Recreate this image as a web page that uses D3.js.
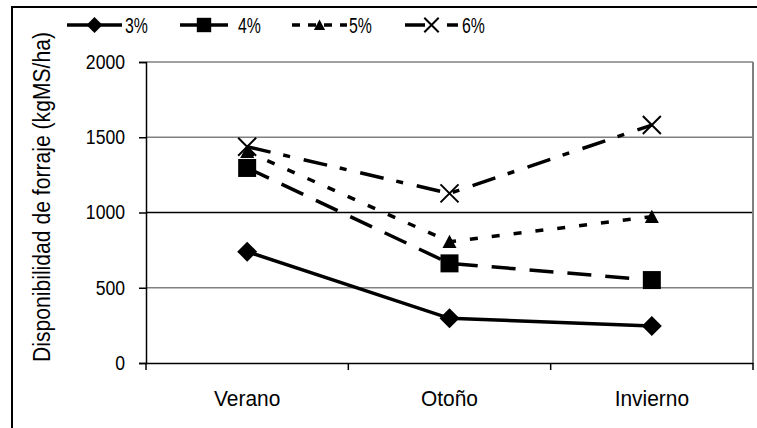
<!DOCTYPE html>
<html><head><meta charset="utf-8">
<script src="https://cdn.jsdelivr.net/npm/d3@7"></script>
<style>
body{margin:0;background:#fff;}
text{font-family:'Liberation Sans','Arial',sans-serif;fill:#000;}
</style></head><body>
<svg id="c" width="757" height="428"></svg>
<script>
const categories = ["Verano","Otoño","Invierno"];
const seriesNames = ["3%","4%","5%","6%"];
const s3 = [740, 297, 246];
const s4 = [1296, 662, 551];
const s5 = [1404, 806, 972];
const s6 = [1437, 1127, 1581];
const yTicks = [0, 500, 1000, 1500, 2000];
const yTitle = "Disponibilidad de forraje (kgMS/ha)";

const series = [
  {name: seriesNames[0], values: s3, dash: null, legDash: null, marker: "diamond"},
  {name: seriesNames[1], values: s4, dash: "24,14", legDash: null, marker: "square"},
  {name: seriesNames[2], values: s5, dash: "8,14", legDash: "8,8", marker: "triangle"},
  {name: seriesNames[3], values: s6, dash: "24,13,7,14", legDash: "20,22,14,10", marker: "x"}
];

// condense text horizontally (the reference uses a narrow face)
function condense(sel, k){
  sel.each(function(){
    const w = this.getComputedTextLength();
    d3.select(this).attr("textLength", w*k).attr("lengthAdjust","spacingAndGlyphs");
  });
}

const svg = d3.select("#c");
// outer frame
svg.append("rect").attr("x",12).attr("y",7).attr("width",760).attr("height",440)
  .attr("fill","none").attr("stroke","#000").attr("stroke-width",2);

const L=146, R=753, T=62, B=363;
const x = d3.scaleBand().domain(categories).range([L,R]);
const y = d3.scaleLinear().domain([0,2000]).range([B,T]);

// gridlines
svg.append("g").selectAll("line").data(yTicks.filter(d=>d>0)).join("line")
  .attr("x1",L).attr("x2",R).attr("y1",d=>y(d)).attr("y2",d=>y(d))
  .attr("stroke",d=>d===1000?"#000":"#808080").attr("stroke-width",1.5);
// right border
svg.append("line").attr("x1",R).attr("x2",R).attr("y1",T).attr("y2",B)
  .attr("stroke","#808080").attr("stroke-width",2);

// axes
const yAxis = d3.axisLeft(y).tickValues(yTicks).tickSize(7).tickPadding(14).tickFormat(d3.format("d"));
const gy = svg.append("g").attr("transform",`translate(${L},0)`).call(yAxis);
gy.select(".domain").attr("stroke","#000").attr("stroke-width",1.5);
gy.selectAll(".tick line").attr("stroke","#000").attr("stroke-width",1.5);
gy.selectAll(".tick text").attr("font-size",20).attr("font-family","'Liberation Sans',Arial,sans-serif");
condense(gy.selectAll(".tick text"), 0.88);

const xAxis = d3.axisBottom(x).tickSize(0).tickPadding(27);
const gx = svg.append("g").attr("transform",`translate(0,${B})`).call(xAxis);
gx.select(".domain").attr("stroke","#000").attr("stroke-width",1.5);
gx.selectAll(".tick text").attr("font-size",22).attr("font-family","'Liberation Sans',Arial,sans-serif");
condense(gx.selectAll(".tick text"), 0.95);
// category boundary ticks
const bounds = categories.map(c=>x(c)).concat([x(categories[categories.length-1])+x.bandwidth()]);
gx.selectAll(".btick").data(bounds).join("line").attr("class","btick")
  .attr("x1",d=>d).attr("x2",d=>d).attr("y1",0).attr("y2",7)
  .attr("stroke","#000").attr("stroke-width",1.5);

// y title
const yt = svg.append("text").attr("transform",`translate(50,362) rotate(-90)`)
  .attr("text-anchor","start").attr("font-size",23).text(yTitle);
yt.attr("textLength",330).attr("lengthAdjust","spacingAndGlyphs");

const cx = c => x(c)+x.bandwidth()/2;

function drawMarker(g, type, px, py, sc){
  sc = sc||1;
  if(type==="diamond"){
    const r=10*sc;
    g.append("path").attr("d",`M${px},${py-r}L${px+r},${py}L${px},${py+r}L${px-r},${py}Z`).attr("fill","#000");
  } else if(type==="square"){
    const r=9*sc;
    g.append("rect").attr("x",px-r).attr("y",py-r).attr("width",2*r).attr("height",2*r).attr("fill","#000");
  } else if(type==="triangle"){
    const r=7*sc;
    g.append("path").attr("d",`M${px},${py-r}L${px+r},${py+r*0.9}L${px-r},${py+r*0.9}Z`).attr("fill","#000");
  } else if(type==="x"){
    const r=9*sc;
    g.append("path").attr("d",`M${px-r},${py-r}L${px+r},${py+r}M${px+r},${py-r}L${px-r},${py+r}`)
      .attr("stroke","#000").attr("stroke-width",2).attr("fill","none");
  }
}

const line = d3.line().x((d,i)=>cx(categories[i])).y(d=>y(d));
const gs = svg.append("g");
series.forEach(s=>{
  gs.append("path").attr("d",line(s.values)).attr("fill","none").attr("stroke","#000")
    .attr("stroke-width",3.5).attr("stroke-dasharray",s.dash);
});
series.forEach(s=>{
  s.values.forEach((v,i)=>drawMarker(gs, s.marker, cx(categories[i]), y(v)));
});

// legend
const legX = [67, 180, 292, 405];
const legW = [55, 48, 55, 53];
const legTx = [125, 238, 349, 462];
const legY = 25;
series.forEach((s,i)=>{
  const g = svg.append("g");
  g.append("line").attr("x1",legX[i]).attr("x2",legX[i]+legW[i]).attr("y1",legY).attr("y2",legY)
    .attr("stroke","#000").attr("stroke-width",3.5).attr("stroke-dasharray",s.legDash);
  drawMarker(g, s.marker, legX[i]+legW[i]/2, legY, 0.8);
  const t = g.append("text").attr("x",legTx[i]).attr("y",legY+8).attr("font-size",22).text(s.name);
  condense(t, 0.72);
});
</script>
</body></html>
